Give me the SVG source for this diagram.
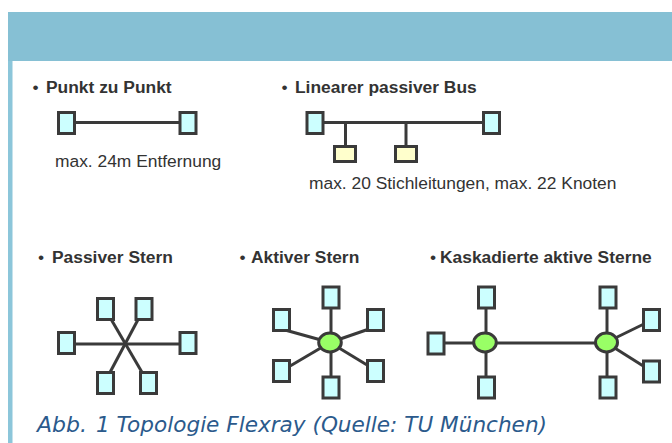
<svg xmlns="http://www.w3.org/2000/svg" width="672" height="443" viewBox="0 0 672 443">
  <style>
    .title { font-family: "Liberation Sans", Arial, sans-serif; font-size: 17.4px; font-weight: bold; fill: #333333; }
    .bullet { font-family: "Liberation Sans", Arial, sans-serif; font-size: 17.4px; fill: #333333; text-anchor: middle; }
    .note { font-family: "Liberation Sans", Arial, sans-serif; font-size: 17.4px; fill: #333333; }
    .caption { font-family: "DejaVu Sans", Verdana, sans-serif; font-size: 22px; font-style: italic; fill: #2b5a8c; }
    .wire { stroke: #3a3a3a; stroke-width: 3; fill: none; }
    .node { fill: #ccffff; stroke: #3a3a3a; stroke-width: 3; }
    .stub { fill: #ffffcc; stroke: #3a3a3a; stroke-width: 3; }
    .hub { fill: #99ff66; stroke: #3a3a3a; stroke-width: 3; }
  </style>
  <defs>
    <rect id="box" x="-8" y="-10.5" width="16" height="21" class="node"/>
    <rect id="ybox" x="-10.5" y="-7.5" width="21" height="15" class="stub"/>
  </defs>

  <!-- page frame: header band and left rule -->
  <rect x="8" y="12" width="664" height="49" fill="#86c0d4"/>
  <rect x="8" y="61" width="4.5" height="382" fill="#8cc6da"/>

  <!-- section headings -->
  <g id="headings">
    <text class="bullet" x="35.5" y="93">•</text>
    <text class="title" x="46" y="93">Punkt zu Punkt</text>
    <text class="bullet" x="284.5" y="93">•</text>
    <text class="title" x="295" y="93">Linearer passiver Bus</text>
    <text class="bullet" x="41" y="263">•</text>
    <text class="title" x="52" y="263">Passiver Stern</text>
    <text class="bullet" x="242.5" y="263">•</text>
    <text class="title" x="251" y="263">Aktiver Stern</text>
    <text class="bullet" x="433" y="263">•</text>
    <text class="title" x="440" y="263">Kaskadierte aktive Sterne</text>
  </g>

  <!-- connectors -->
  <g id="connectors" class="wire">
    <!-- point to point -->
    <line x1="70" y1="122.5" x2="184" y2="122.5"/>
    <!-- linear bus with two stubs -->
    <line x1="318" y1="122.5" x2="488" y2="122.5"/>
    <line x1="345.5" y1="122.5" x2="345.5" y2="148"/>
    <line x1="406" y1="122.5" x2="406" y2="148"/>
    <!-- passive star -->
    <line x1="70" y1="344" x2="184" y2="344"/>
    <line x1="108" y1="314" x2="146.5" y2="380"/>
    <line x1="141" y1="314" x2="107" y2="378"/>
    <!-- active star -->
    <line x1="331" y1="300" x2="331" y2="385"/>
    <line x1="285" y1="330" x2="330" y2="342.5"/>
    <line x1="372" y1="328" x2="330" y2="342.5"/>
    <line x1="285" y1="369" x2="330" y2="342.5"/>
    <line x1="372" y1="368" x2="330" y2="342.5"/>
    <!-- cascaded active stars -->
    <line x1="440" y1="343" x2="606" y2="343"/>
    <line x1="486" y1="300" x2="486" y2="385"/>
    <line x1="607" y1="300" x2="607" y2="385"/>
    <line x1="606" y1="342.5" x2="648" y2="322"/>
    <line x1="606" y1="342.5" x2="648" y2="369"/>
  </g>

  <!-- point to point -->
  <g id="p2p-a"><use href="#box" x="66.5" y="123"/></g>
  <g id="p2p-b"><use href="#box" x="188" y="123"/></g>
  <text class="note" x="55" y="167">max. 24m Entfernung</text>

  <!-- linear passive bus -->
  <g id="bus-a"><use href="#box" x="315" y="123"/></g>
  <g id="bus-b"><use href="#box" x="491.5" y="123"/></g>
  <g id="bus-stub-1"><use href="#ybox" x="345" y="154"/></g>
  <g id="bus-stub-2"><use href="#ybox" x="406" y="154"/></g>
  <text class="note" x="309" y="189">max. 20 Stichleitungen, max. 22 Knoten</text>

  <!-- passive star -->
  <g id="ps-tl"><use href="#box" x="105.5" y="309"/></g>
  <g id="ps-tr"><use href="#box" x="144" y="309"/></g>
  <g id="ps-l"><use href="#box" x="66.5" y="343"/></g>
  <g id="ps-r"><use href="#box" x="188" y="343"/></g>
  <g id="ps-bl"><use href="#box" x="105.5" y="383"/></g>
  <g id="ps-br"><use href="#box" x="148.5" y="383"/></g>

  <!-- active star -->
  <g id="as-hub"><ellipse cx="330" cy="342.5" rx="11.3" ry="9.4" class="hub"/></g>
  <g id="as-t"><use href="#box" x="331" y="297.5"/></g>
  <g id="as-b"><use href="#box" x="331" y="387.5"/></g>
  <g id="as-tl"><use href="#box" x="281.5" y="320"/></g>
  <g id="as-tr"><use href="#box" x="375.5" y="320"/></g>
  <g id="as-bl"><use href="#box" x="281.5" y="371"/></g>
  <g id="as-br"><use href="#box" x="375.5" y="371"/></g>

  <!-- cascaded active stars -->
  <g id="cs-hub-1"><ellipse cx="485" cy="342.5" rx="11.3" ry="9.4" class="hub"/></g>
  <g id="cs-hub-2"><ellipse cx="606.5" cy="342.5" rx="11" ry="9.4" class="hub"/></g>
  <g id="cs-l"><use href="#box" x="436" y="343.5"/></g>
  <g id="cs-t1"><use href="#box" x="486.5" y="297.5"/></g>
  <g id="cs-b1"><use href="#box" x="486.5" y="387.5"/></g>
  <g id="cs-t2"><use href="#box" x="608" y="297.5"/></g>
  <g id="cs-b2"><use href="#box" x="608" y="387.5"/></g>
  <g id="cs-ru"><use href="#box" x="651.5" y="320"/></g>
  <g id="cs-rl"><use href="#box" x="651.5" y="371.5"/></g>

  <!-- figure caption -->
  <text class="caption" x="37" y="432">Abb.</text>
  <text class="caption" x="96" y="432" textLength="451" lengthAdjust="spacingAndGlyphs">1 Topologie Flexray (Quelle: TU München)</text>
</svg>
